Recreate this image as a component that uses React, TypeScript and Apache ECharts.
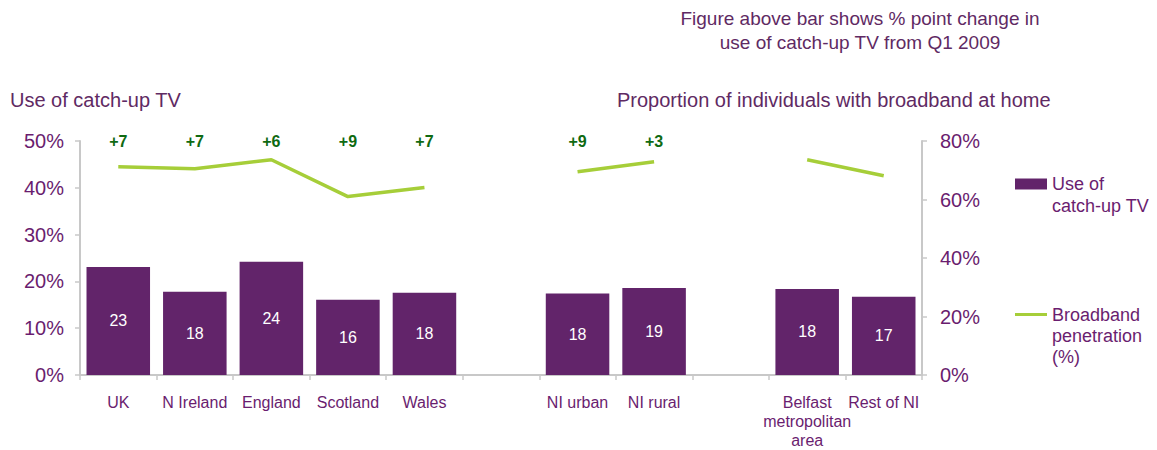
import React, { useEffect, useRef } from "react";
import * as echarts from "echarts";

const categories = ["UK", "N Ireland", "England", "Scotland", "Wales", " ", "NI urban", "NI rural", "  ", "Belfast\nmetropolitan\narea", "Rest of NI"];
const catchUpValues = [23.1, 17.8, 24.2, 16.1, 17.6, null, 17.4, 18.6, null, 18.4, 16.7];
const catchUpLabels = ["23", "18", "24", "16", "18", "", "18", "19", "", "18", "17"];
const broadbandValues = [71.2, 70.5, 73.6, 61.0, 64.1, null, 69.5, 72.9, null, 73.6, 68.1];
const changeLabels = ["+7", "+7", "+6", "+9", "+7", "", "+9", "+3", "", "", ""];
const leftTicks = { min: 0, max: 50, interval: 10 };
const rightTicks = { min: 0, max: 80, interval: 20 };

const PURPLE_TEXT = "#6a1d6f";
const TITLE_TEXT = "#5f2a63";
const BAR = "#62246a";
const LINE = "#a6ce39";
const GREEN = "#0f6a12";
const AXIS = "#c8c8c8";
const FONT = "Liberation Sans, Arial, sans-serif";

export default function App() {
  const ref = useRef<HTMLDivElement>(null);
  useEffect(() => {
    document.body.style.margin = "0";
    const chart = echarts.init(ref.current!, null, { renderer: "svg" });
    const changeData = changeLabels
      .map((c, i) => (c ? { value: [i, 49.8], label: { formatter: c } } : null))
      .filter((d) => d !== null);
    chart.setOption({
      animation: false,
      textStyle: { fontFamily: FONT },
      title: [
        {
          text: "Figure above bar shows % point change in\nuse of catch-up TV from Q1 2009",
          left: 860,
          top: 6,
          padding: 0,
          textAlign: "center",
          textStyle: { fontSize: 19, fontWeight: "normal", color: TITLE_TEXT, lineHeight: 24, fontFamily: FONT },
        },
        {
          text: "Use of catch-up TV",
          left: 10,
          top: 88,
          padding: 0,
          textStyle: { fontSize: 20, fontWeight: "normal", color: TITLE_TEXT, lineHeight: 24, fontFamily: FONT },
        },
        {
          text: "Proportion of individuals with broadband at home",
          left: 617,
          top: 88,
          padding: 0,
          textStyle: { fontSize: 20, fontWeight: "normal", color: TITLE_TEXT, lineHeight: 24, fontFamily: FONT },
        },
      ],
      legend: [
        {
          orient: "vertical",
          left: 1015,
          top: 151,
          padding: 0,
          itemWidth: 32,
          itemHeight: 11,
          selectedMode: false,
          data: [{ name: "Use of catch-up TV", icon: "rect" }],
          formatter: () => "\nUse of\ncatch-up TV",
          textStyle: { fontSize: 18, color: PURPLE_TEXT, lineHeight: 22, fontFamily: FONT },
        },
        {
          orient: "vertical",
          left: 1015,
          top: 262,
          padding: 0,
          itemWidth: 32,
          itemHeight: 3,
          selectedMode: false,
          data: [{ name: "Broadband penetration (%)", icon: "rect", itemStyle: { color: LINE } }],
          formatter: () => "\n\nBroadband\npenetration\n(%)",
          textStyle: { fontSize: 18, color: PURPLE_TEXT, lineHeight: 21, fontFamily: FONT },
        },
      ],
      grid: { left: 80, right: 235, top: 141, bottom: 73, containLabel: false },
      xAxis: {
        type: "category",
        data: categories,
        axisLine: { lineStyle: { color: AXIS, width: 2 } },
        axisTick: { show: true, length: 5, lineStyle: { color: AXIS, width: 1.5 } },
        axisLabel: { color: PURPLE_TEXT, fontSize: 16, lineHeight: 19, margin: 18, interval: 0, fontFamily: FONT },
      },
      yAxis: [
        {
          type: "value",
          ...leftTicks,
          axisLine: { show: true, lineStyle: { color: AXIS, width: 2 } },
          axisTick: { show: true, length: 5, lineStyle: { color: AXIS, width: 1.5 } },
          splitLine: { show: false },
          axisLabel: { formatter: "{value}%", color: PURPLE_TEXT, fontSize: 20, margin: 16, fontFamily: FONT },
        },
        {
          type: "value",
          ...rightTicks,
          position: "right",
          axisLine: { show: true, lineStyle: { color: AXIS, width: 2 } },
          axisTick: { show: true, length: 5, lineStyle: { color: AXIS, width: 1.5 } },
          splitLine: { show: false },
          axisLabel: { formatter: "{value}%", color: PURPLE_TEXT, fontSize: 20, margin: 18, fontFamily: FONT },
        },
      ],
      series: [
        {
          name: "Use of catch-up TV",
          type: "bar",
          yAxisIndex: 0,
          data: catchUpValues,
          barCategoryGap: "17%",
          itemStyle: { color: BAR },
          label: {
            show: true,
            position: "inside",
            color: "#ffffff",
            fontSize: 16,
            fontFamily: FONT,
            formatter: (p: any) => catchUpLabels[p.dataIndex],
          },
        },
        {
          name: "Broadband penetration (%)",
          type: "line",
          yAxisIndex: 1,
          data: broadbandValues,
          showSymbol: false,
          symbol: "none",
          connectNulls: false,
          lineStyle: { color: LINE, width: 3.5 },
          itemStyle: { color: LINE },
        },
        {
          name: "change",
          type: "scatter",
          yAxisIndex: 0,
          data: changeData,
          symbolSize: 0,
          silent: true,
          itemStyle: { opacity: 1 },
          label: {
            show: true,
            position: "inside",
            color: GREEN,
            opacity: 1,
            fontSize: 16,
            fontWeight: "bold",
            fontFamily: FONT,
          },
        },
      ],
    });
    return () => chart.dispose();
  }, []);
  return <div ref={ref} style={{ width: 1157, height: 450 }} />;
}
